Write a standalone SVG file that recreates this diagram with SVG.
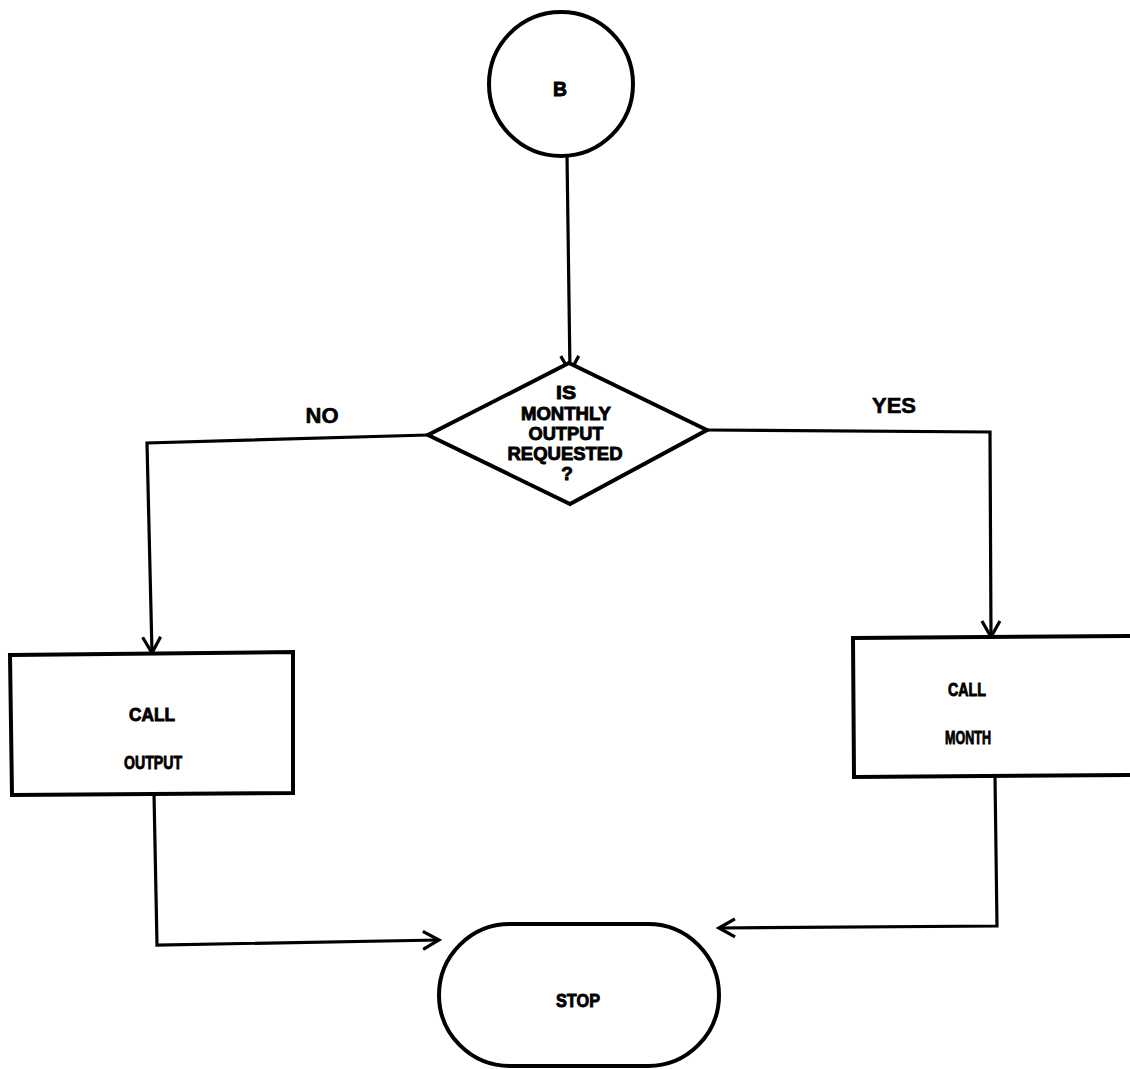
<svg xmlns="http://www.w3.org/2000/svg" width="1130" height="1069" viewBox="0 0 1130 1069">
<defs>
<style>
.shape{fill:#fff;stroke:#000;stroke-width:4}
.edge{fill:none;stroke:#000;stroke-width:3.2}
.t{font-family:"Liberation Sans","DejaVu Sans",sans-serif;font-weight:bold;fill:#000;stroke:#000;stroke-width:0.9;text-anchor:middle}
.lbl{font-size:22px;stroke-width:0.6}
.in{font-size:19px}
</style>
<marker id="arr" viewBox="0 0 24 24" refX="21" refY="12" markerWidth="24" markerHeight="24" markerUnits="userSpaceOnUse" orient="auto">
<path d="M5,3 L21,12 L5,21" fill="none" stroke="#000" stroke-width="3.2"/>
</marker>
</defs>
<rect width="1130" height="1069" fill="#fff"/>
<g id="connectors">
<path class="edge" d="M567,155 L570,372" marker-end="url(#arr)"/>
<path class="edge" d="M428,435 L147,443 L152,653" marker-end="url(#arr)"/>
<path class="edge" d="M707,430 L990,432 L991,637" marker-end="url(#arr)"/>
<path class="edge" d="M154,794 L157,945 L439,940" marker-end="url(#arr)"/>
<path class="edge" d="M995,777 L997,926 L719,928" marker-end="url(#arr)"/>
</g>
<g id="node-b">
<circle class="shape" cx="561" cy="84" r="72"/>
<text class="t" x="560" y="96" font-size="20" textLength="14" lengthAdjust="spacingAndGlyphs">B</text>
</g>
<g id="node-decision">
<path class="shape" d="M569,363 L707,430 L570,504 L428,435 Z"/>
<text class="t in" x="566" y="399" textLength="20" lengthAdjust="spacingAndGlyphs">IS</text>
<text class="t in" x="566" y="420" textLength="90" lengthAdjust="spacingAndGlyphs">MONTHLY</text>
<text class="t in" x="566" y="440" textLength="75" lengthAdjust="spacingAndGlyphs">OUTPUT</text>
<text class="t in" x="565" y="460" textLength="115" lengthAdjust="spacingAndGlyphs">REQUESTED</text>
<text class="t in" x="567" y="480">?</text>
</g>
<g id="label-no"><text class="t lbl" x="322" y="423">NO</text></g>
<g id="label-yes"><text class="t lbl" x="894" y="413">YES</text></g>
<g id="node-output">
<path class="shape" d="M10,655 L293,652 L293,793 L12,795 Z"/>
<text class="t in" x="152" y="721" textLength="46" lengthAdjust="spacingAndGlyphs">CALL</text>
<text class="t in" x="153" y="769" textLength="58" lengthAdjust="spacingAndGlyphs">OUTPUT</text>
</g>
<g id="node-month">
<path class="shape" d="M853,638 L1134,636 L1134,775 L854,777 Z"/>
<text class="t in" x="967" y="696" textLength="38" lengthAdjust="spacingAndGlyphs">CALL</text>
<text class="t in" x="968" y="744" textLength="46" lengthAdjust="spacingAndGlyphs">MONTH</text>
</g>
<g id="node-stop">
<rect class="shape" x="439" y="924" width="280" height="142" rx="71" ry="71"/>
<text class="t in" x="578" y="1007" textLength="44" lengthAdjust="spacingAndGlyphs">STOP</text>
</g>
</svg>
